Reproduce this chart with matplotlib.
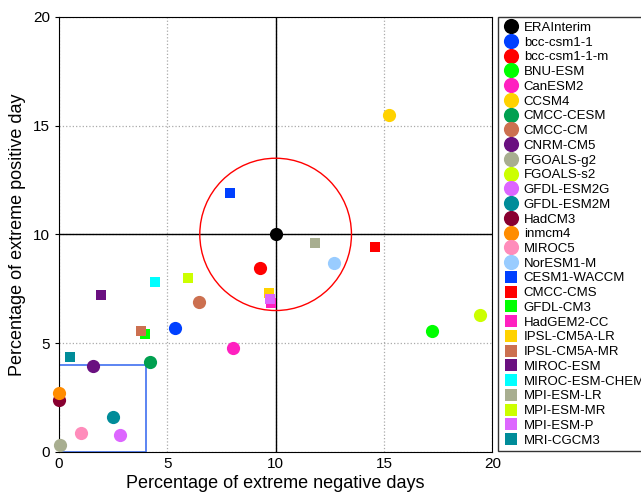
import matplotlib
matplotlib.use("Agg")
import matplotlib.pyplot as plt
from matplotlib.patches import Circle, Rectangle

plt.rcParams['font.family'] = ['Liberation Sans', 'DejaVu Sans']

# circle models
circ_names = ['ERAInterim', 'bcc-csm1-1', 'bcc-csm1-1-m', 'BNU-ESM', 'CanESM2', 'CCSM4',
              'CMCC-CESM', 'CMCC-CM', 'CNRM-CM5', 'FGOALS-g2', 'FGOALS-s2', 'GFDL-ESM2G',
              'GFDL-ESM2M', 'HadCM3', 'inmcm4', 'MIROC5', 'NorESM1-M']
circ_x = [10.0, 5.35, 9.3, 17.2, 8.05, 15.25, 4.2, 6.45, 1.55, 0.05, 19.45, 2.8,
          2.5, 0.0, 0.0, 1.0, 12.7]
circ_y = [10.0, 5.7, 8.45, 5.55, 4.8, 15.5, 4.15, 6.9, 3.95, 0.3, 6.3, 0.8,
          1.6, 2.4, 2.7, 0.87, 8.7]
circ_colors = ['#000000', '#0040FF', '#FF0000', '#00FF00', '#FF20C0', '#FFD200',
               '#00A050', '#CC7050', '#6A1080', '#A8AE90', '#CCFF00', '#DD66FF',
               '#008C99', '#880030', '#FF8C00', '#FF8CBB', '#99CCFF']

# square models
sq_names = ['CESM1-WACCM', 'CMCC-CMS', 'GFDL-CM3', 'HadGEM2-CC', 'IPSL-CM5A-LR',
            'IPSL-CM5A-MR', 'MIROC-ESM', 'MIROC-ESM-CHEM', 'MPI-ESM-LR', 'MPI-ESM-MR',
            'MPI-ESM-P', 'MRI-CGCM3']
sq_x = [7.9, 14.6, 3.95, 9.8, 9.7, 3.8, 1.95, 4.45, 11.8, 5.95, 9.75, 0.5]
sq_y = [11.9, 9.4, 5.4, 6.85, 7.3, 5.55, 7.2, 7.8, 9.6, 8.0, 7.05, 4.35]
sq_colors = ['#0040FF', '#FF0000', '#00FF00', '#FF20C0', '#FFD200', '#CC7050',
             '#6A1080', '#00FFFF', '#A8AE90', '#CCFF00', '#DD66FF', '#008C99']

ref_x, ref_y, ref_radius = 10, 10, 3.5
box_size = 4

fig = plt.figure(figsize=(6.41, 4.95), dpi=100)
ax = fig.add_axes([0.092, 0.087, 0.676, 0.879])

ax.set_xlim(0, 20)
ax.set_ylim(0, 20)
ax.set_xticks([0, 5, 10, 15, 20])
ax.set_yticks([0, 5, 10, 15, 20])
ax.grid(True, linestyle=':', color='#aaaaaa', linewidth=0.9)
ax.tick_params(direction='in', top=True, right=True, labelsize=11, length=4)
ax.tick_params(axis='y', which='both', left=True, right=False, direction='out', length=3)
ax.tick_params(axis='x', which='both', bottom=False, top=False)

ax.axvline(ref_x, color='black', linewidth=1, zorder=2)
ax.axhline(ref_y, color='black', linewidth=1, zorder=2)
ax.add_patch(Circle((ref_x, ref_y), ref_radius, fill=False, edgecolor='red', linewidth=1, zorder=2))
ax.add_patch(Rectangle((0, 0), box_size, box_size, fill=False, edgecolor='#4070F0', linewidth=1.2, zorder=2))

handles = []
for n, x, y, c in zip(circ_names, circ_x, circ_y, circ_colors):
    h, = ax.plot(x, y, 'o', color=c, markersize=9.5, markeredgewidth=0, label=n, zorder=4, clip_on=False)
    handles.append(h)
for n, x, y, c in zip(sq_names, sq_x, sq_y, sq_colors):
    h, = ax.plot(x, y, 's', color=c, markersize=7.5, markeredgewidth=0, label=n, zorder=3, clip_on=False)
    handles.append(h)

ax.set_xlabel('Percentage of extreme negative days', fontsize=13, labelpad=3)
ax.set_ylabel('Percentage of extreme positive day', fontsize=13, labelpad=5)

leg = fig.legend(handles=handles, loc='upper left', bbox_to_anchor=(498 / 641, 1 - 17 / 495),
                 fontsize=9.5, frameon=True, fancybox=False, borderaxespad=0,
                 handletextpad=0.3, handlelength=1.3, labelspacing=0.19,
                 borderpad=0.35, markerscale=1.15)
leg.get_frame().set_edgecolor('black')
leg.get_frame().set_linewidth(1)

fig.savefig('out.png', dpi=100)
